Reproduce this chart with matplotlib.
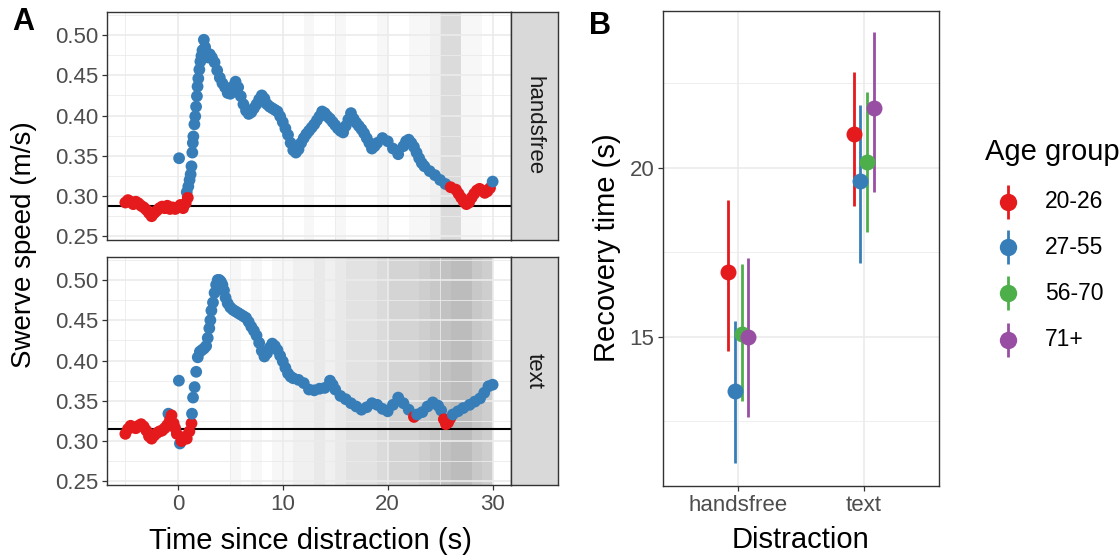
import matplotlib
matplotlib.use("Agg")
import matplotlib.pyplot as plt
from matplotlib.ticker import MultipleLocator, FixedLocator, FormatStrFormatter

plt.rcParams['font.family'] = ['Liberation Sans', 'DejaVu Sans']

# ---------------- data: panel A (swerve speed time course) ----------------
# handsfree: points not different from baseline (red) and different (blue)
hf_base_time = [-5.0, -4.75, -4.5, -4.25, -4.0, -3.75, -3.5, -3.25, -3.0, -2.75,
                -2.5, -2.25, -2.0, -1.75, -1.5, -1.25, -1.0, -0.75, -0.5, -0.25,
                0.0, 0.25, 0.5, 0.75, 0.95,
                26.0, 26.5, 26.75, 27.0, 27.25, 27.5, 27.75, 28.0, 28.25, 28.5,
                28.75, 29.0, 29.25, 29.5, 29.75]
hf_base_speed = [0.292, 0.295, 0.293, 0.290, 0.293, 0.291, 0.288, 0.286, 0.283, 0.279,
                 0.275, 0.279, 0.282, 0.285, 0.287, 0.285, 0.288, 0.284, 0.286, 0.284,
                 0.286, 0.289, 0.285, 0.291, 0.298,
                 0.311, 0.308, 0.303, 0.298, 0.293, 0.290, 0.292, 0.298, 0.303, 0.307,
                 0.309, 0.307, 0.304, 0.306, 0.310]
hf_sig_time = [0.12, 0.85, 1.0, 1.12, 1.22, 1.30, 1.38, 1.43, 1.48, 1.58,
               1.66, 1.74, 1.82, 1.88, 1.95, 2.05, 2.15, 2.25, 2.35, 2.48,
               2.6, 2.75, 2.9, 3.05, 3.25, 3.5, 3.75, 4.0, 4.25, 4.5,
               4.75, 5.0, 5.25, 5.5, 5.75, 6.0, 6.25, 6.5, 6.75, 7.0,
               7.25, 7.5, 7.75, 8.0, 8.25, 8.5, 8.75, 9.0, 9.25, 9.5,
               9.75, 10.0, 10.25, 10.5, 10.75, 11.0, 11.25, 11.5, 11.75, 12.0,
               12.25, 12.5, 12.75, 13.0, 13.25, 13.5, 13.75, 14.0, 14.25, 14.5,
               14.75, 15.0, 15.25, 15.5, 15.75, 16.0, 16.25, 16.5, 16.75, 17.0,
               17.25, 17.5, 17.75, 18.0, 18.25, 18.5, 18.75, 19.0, 19.5, 20.0,
               20.5, 21.0, 21.5, 21.75, 22.0, 22.25, 22.5, 22.75, 23.0, 23.25,
               23.5, 24.0, 24.5, 25.0, 25.5, 30.0]
hf_sig_speed = [0.347, 0.305, 0.312, 0.320, 0.327, 0.337, 0.354, 0.366, 0.374, 0.389,
                0.399, 0.411, 0.424, 0.436, 0.446, 0.457, 0.467, 0.474, 0.481, 0.494,
                0.485, 0.478, 0.472, 0.476, 0.472, 0.466, 0.456, 0.447, 0.440, 0.435,
                0.428, 0.427, 0.436, 0.442, 0.435, 0.424, 0.414, 0.406, 0.402, 0.404,
                0.409, 0.414, 0.420, 0.425, 0.421, 0.414, 0.411, 0.409, 0.407, 0.405,
                0.399, 0.392, 0.384, 0.376, 0.366, 0.357, 0.354, 0.358, 0.366, 0.372,
                0.377, 0.381, 0.385, 0.389, 0.394, 0.399, 0.405, 0.403, 0.399, 0.396,
                0.392, 0.388, 0.384, 0.381, 0.379, 0.387, 0.395, 0.403, 0.396, 0.391,
                0.387, 0.383, 0.378, 0.372, 0.366, 0.359, 0.362, 0.366, 0.372, 0.368,
                0.359, 0.352, 0.362, 0.368, 0.370, 0.366, 0.361, 0.354, 0.347, 0.341,
                0.337, 0.331, 0.326, 0.320, 0.315, 0.318]
hf_baseline = 0.288

# text
tx_base_time = [-5.0, -4.75, -4.5, -4.25, -4.0, -3.75, -3.5, -3.25, -3.0, -2.75,
                -2.5, -2.25, -2.0, -1.75, -1.5, -1.25, -1.0, -0.75, -0.6, -0.4,
                -0.25, -0.1, 0.35, 0.6, 0.85, 1.1, 1.3, 22.5, 25.35, 25.55,
                25.75, 25.95]
tx_base_speed = [0.309, 0.315, 0.319, 0.317, 0.316, 0.319, 0.321, 0.318, 0.313, 0.306,
                 0.303, 0.307, 0.310, 0.312, 0.313, 0.316, 0.320, 0.326, 0.332, 0.322,
                 0.316, 0.309, 0.300, 0.305, 0.303, 0.312, 0.322, 0.330, 0.327, 0.321,
                 0.323, 0.328]
tx_sig_time = [-0.9, 0.1, 0.2, 1.35, 1.45, 1.6, 1.75, 1.9, 2.1, 2.3,
               2.5, 2.7, 2.85, 3.0, 3.1, 3.2, 3.35, 3.5, 3.65, 3.8,
               3.95, 4.1, 4.25, 4.4, 4.55, 4.75, 5.0, 5.25, 5.5, 5.75,
               6.0, 6.25, 6.5, 6.75, 7.0, 7.25, 7.5, 7.75, 8.0, 8.25,
               8.5, 8.75, 9.0, 9.25, 9.5, 9.75, 10.0, 10.25, 10.5, 10.75,
               11.0, 11.5, 12.0, 12.5, 13.0, 13.5, 14.0, 14.5, 14.75, 15.0,
               15.5, 16.0, 16.5, 17.0, 17.5, 18.0, 18.5, 19.0, 19.5, 20.0,
               20.5, 21.0, 21.5, 22.0, 22.8, 23.3, 23.8, 24.3, 24.8, 25.1,
               26.2, 26.7, 27.2, 27.8, 28.3, 28.8, 29.2, 29.6, 30.0]
tx_sig_speed = [0.334, 0.375, 0.297, 0.334, 0.354, 0.367, 0.386, 0.404, 0.411, 0.413,
                0.415, 0.418, 0.428, 0.440, 0.450, 0.462, 0.472, 0.484, 0.494, 0.500,
                0.500, 0.498, 0.494, 0.487, 0.478, 0.471, 0.466, 0.463, 0.461, 0.459,
                0.457, 0.455, 0.453, 0.448, 0.442, 0.437, 0.431, 0.422, 0.412, 0.405,
                0.409, 0.416, 0.421, 0.418, 0.413, 0.406, 0.399, 0.391, 0.384, 0.380,
                0.378, 0.376, 0.372, 0.364, 0.363, 0.365, 0.366, 0.375, 0.370, 0.364,
                0.356, 0.352, 0.347, 0.343, 0.339, 0.342, 0.347, 0.345, 0.340, 0.337,
                0.345, 0.354, 0.347, 0.339, 0.333, 0.336, 0.343, 0.348, 0.344, 0.338,
                0.333, 0.337, 0.341, 0.345, 0.349, 0.353, 0.360, 0.368, 0.370]
tx_baseline = 0.315

# distribution of individual recovery times (count per 1-s bin, bins start at 0..29)
shade_bin_start = list(range(0, 30))
hf_recovery_counts = [0, 0, 0, 0, 0, 0, 0, 0, 0, 0, 0, 0, 1, 0, 0, 1, 0, 0, 0, 1,
                      0, 0, 1, 1, 2, 5, 5, 1, 1, 0]
tx_recovery_counts = [0, 0, 0, 0, 0, 1, 0, 1, 0, 1, 1, 2, 2, 3, 2, 3, 4, 4, 4, 5,
                      6, 6, 6, 7, 8, 9, 10, 10, 8, 7]

# ---------------- data: panel B (recovery time) ----------------
distractions = ['handsfree', 'text']
age_groups = ['20-26', '27-55', '56-70', '71+']
rec_mean = {'20-26': [16.92, 21.00], '27-55': [13.41, 19.60],
            '56-70': [15.09, 20.16], '71+': [14.99, 21.77]}
rec_low = {'20-26': [14.59, 18.88], '27-55': [11.27, 17.18],
           '56-70': [13.09, 18.10], '71+': [12.64, 19.30]}
rec_high = {'20-26': [19.05, 22.85], '27-55': [15.48, 21.86],
            '56-70': [17.16, 22.23], '71+': [17.34, 24.01]}
age_colors = ['#E41A1C', '#377EB8', '#4DAF4A', '#984EA3']

# ---------------- figure ----------------
W, H = 1120, 559
fig = plt.figure(figsize=(W / 100, H / 100), dpi=100)

TICK_C = '#4D4D4D'
SPINE_C = '#333333'
GRID_C = '#EBEBEB'
RED, BLUE = '#E41A1C', '#377EB8'


def style_axes(ax):
    for s in ax.spines.values():
        s.set_color(SPINE_C)
        s.set_linewidth(1.0)
    ax.tick_params(axis='both', which='major', length=3.8, width=0.9, color=SPINE_C,
                   labelcolor=TICK_C, labelsize=16, pad=2.5)
    ax.tick_params(axis='both', which='minor', length=0)
    ax.set_axisbelow(True)
    ax.grid(True, which='major', color=GRID_C, linewidth=1.2)
    ax.grid(True, which='minor', color=GRID_C, linewidth=0.6)


def panel_a(ax, bt, bv, st, sv, base, counts, label, show_x):
    ax.set_xlim(-6.75, 31.75)
    ax.set_ylim(0.2455, 0.5285)
    for b, c in zip(shade_bin_start, counts):
        if c > 0:
            ax.axvspan(b, b + 1, color='black', alpha=1 - (1 - 0.03) ** c,
                       linewidth=0, zorder=0.3)
    ax.xaxis.set_major_locator(FixedLocator([0, 10, 20, 30]))
    ax.xaxis.set_minor_locator(FixedLocator([-5, 5, 15, 25]))
    ax.yaxis.set_major_locator(MultipleLocator(0.05))
    ax.yaxis.set_minor_locator(MultipleLocator(0.025))
    ax.yaxis.set_major_formatter(FormatStrFormatter('%.2f'))
    style_axes(ax)
    if not show_x:
        ax.tick_params(axis='x', which='major', length=0, labelbottom=False)
    # merge both groups and draw in time order
    pts = [(t, v, RED) for t, v in zip(bt, bv)] + [(t, v, BLUE) for t, v in zip(st, sv)]
    pts.sort(key=lambda p: p[0])
    ax.axhline(base, color='black', linewidth=1.5, zorder=2)
    ax.scatter([p[0] for p in pts], [p[1] for p in pts], s=72,
               c=[p[2] for p in pts], linewidths=0, zorder=3)
    # facet strip
    pos = ax.get_position()
    sx = fig.add_axes([pos.x1, pos.y0, 47 / W, pos.height])
    sx.set_facecolor('#D9D9D9')
    sx.set_xticks([])
    sx.set_yticks([])
    for s in sx.spines.values():
        s.set_color(SPINE_C)
        s.set_linewidth(1.0)
    sx.text(0.5, 0.5, label, rotation=-90, ha='center', va='center',
            fontsize=16, color='#1A1A1A', transform=sx.transAxes)


axA1 = fig.add_axes([107 / W, 1 - 240 / H, 404 / W, 228 / H])
axA2 = fig.add_axes([107 / W, 1 - 485 / H, 404 / W, 228 / H])
panel_a(axA1, hf_base_time, hf_base_speed, hf_sig_time, hf_sig_speed, hf_baseline,
        hf_recovery_counts, 'handsfree', False)
panel_a(axA2, tx_base_time, tx_base_speed, tx_sig_time, tx_sig_speed, tx_baseline,
        tx_recovery_counts, 'text', True)

fig.text(24 / W, 1 - 245 / H, 'Swerve speed (m/s)', rotation=90, ha='center', va='center',
         fontsize=20, color='black')
fig.text(310 / W, 1 - 541 / H, 'Time since distraction (s)', ha='center', va='center',
         fontsize=21, color='black')

# ---------------- panel B ----------------
axB = fig.add_axes([663 / W, 1 - 486 / H, 276 / W, 475 / H])
axB.set_xlim(0.4, 2.6)
axB.set_ylim(10.59, 24.64)
axB.xaxis.set_major_locator(FixedLocator([1, 2]))
axB.set_xticklabels(distractions)
axB.yaxis.set_major_locator(FixedLocator([15, 20]))
axB.yaxis.set_minor_locator(FixedLocator([12.5, 17.5, 22.5]))
style_axes(axB)
offsets = [-0.08, -0.027, 0.027, 0.08]
for gi, g in enumerate(age_groups):
    xs = [i + 1 + offsets[gi] for i in range(len(distractions))]
    for x, lo, hi in zip(xs, rec_low[g], rec_high[g]):
        axB.plot([x, x], [lo, hi], color=age_colors[gi], linewidth=2.0, zorder=3,
                 solid_capstyle='butt')
    axB.plot(xs, rec_mean[g], linestyle='none', marker='o', markersize=11.5,
             markeredgewidth=0, color=age_colors[gi], zorder=4)

fig.text(607 / W, 1 - 248 / H, 'Recovery time (s)', rotation=90, ha='center', va='center',
         fontsize=21, color='black')
fig.text(800 / W, 1 - 540 / H, 'Distraction', ha='center', va='center',
         fontsize=21, color='black')

# panel tags
fig.text(23 / W, 1 - 22 / H, 'A', ha='center', va='center', fontsize=22, fontweight='bold')
fig.text(600 / W, 1 - 26 / H, 'B', ha='center', va='center', fontsize=22, fontweight='bold')

# ---------------- legend ----------------
lg = fig.add_axes([0, 0, 1, 1], facecolor='none')
lg.set_xlim(0, W)
lg.set_ylim(H, 0)
lg.axis('off')
lg.text(985, 152, 'Age group', ha='left', va='center', fontsize=21, color='black')
leg_y = [201.5, 247, 293, 339.5]
for gi, g in enumerate(age_groups):
    y = leg_y[gi]
    lg.plot([1008, 1008], [y - 17, y + 17], color=age_colors[gi], linewidth=2.0,
            solid_capstyle='butt')
    lg.plot([1008], [y], marker='o', markersize=12.5, markeredgewidth=0,
            color=age_colors[gi], linestyle='none')
    lg.text(1045, y, g, ha='left', va='center', fontsize=16.5, color='black')

fig.savefig('out.png', dpi=100)
